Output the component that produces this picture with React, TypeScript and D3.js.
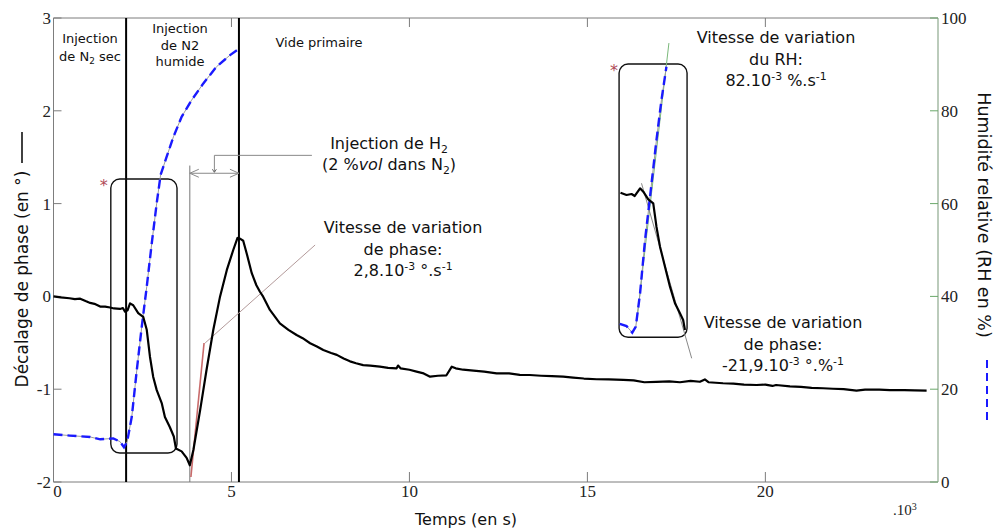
import React from 'react';
import * as d3 from 'd3';

const W = 996;
const H = 529;

// ---- axis ticks ----
const xTickValues = [0, 5, 10, 15, 20];
const xTopTicks = [5, 10, 15, 20];
const yLeftTicks = [3, 2, 1, 0, -1, -2];
const yRightTicks = [100, 80, 60, 40, 20, 0];

// ---- main phase curve (time in 10^3 s, phase in degrees) ----
const phaseTime = [
  0, 0.2, 0.45, 0.6, 0.75, 0.9, 1.03, 1.15, 1.31, 1.45, 1.59, 1.7, 1.87, 1.95, 2.01, 2.08, 2.15, 2.24, 2.38, 2.52,
  2.62, 2.71, 2.8, 2.9, 3.04, 3.13, 3.27, 3.38, 3.44, 3.6, 3.74, 3.83, 3.93, 4.12, 4.3, 4.49, 4.68, 4.87, 5.05, 5.17,
  5.25, 5.33, 5.43, 5.57, 5.7, 5.8, 5.89, 6.08, 6.36, 6.6, 6.83, 7.0, 7.21, 7.4, 7.58, 7.8, 7.96, 8.15, 8.33, 8.5,
  8.7, 8.9, 9.17, 9.4, 9.64, 9.68, 9.75, 10.0, 10.2, 10.4, 10.58, 10.8, 11.04, 11.19, 11.3, 11.51, 11.8, 12.1, 12.45,
  12.8, 13.1, 13.38, 13.7, 14.0, 14.32, 14.6, 14.9, 15.26, 15.6, 16.01, 16.3, 16.6, 16.94, 17.3, 17.6, 17.9, 18.16,
  18.3, 18.4, 18.81, 19.1, 19.4, 19.75, 20.0, 20.2, 20.3, 20.69, 21.0, 21.3, 21.62, 21.9, 22.2, 22.56, 22.8, 23.2,
  23.5, 23.9, 24.2, 24.53,
];
const phaseDeg = [
  0, -0.01, -0.02, -0.03, -0.025, -0.05, -0.07, -0.08, -0.11, -0.11, -0.12, -0.13, -0.135, -0.125, -0.165, -0.15,
  -0.075, -0.095, -0.18, -0.22, -0.36, -0.65, -0.865, -1.01, -1.15, -1.3, -1.41, -1.51, -1.64, -1.67, -1.74, -1.82,
  -1.655, -1.225, -0.79, -0.36, 0.0, 0.285, 0.5, 0.63, 0.62, 0.6, 0.46, 0.25, 0.12, 0.05, -0.003, -0.146, -0.29,
  -0.36, -0.416, -0.45, -0.505, -0.54, -0.578, -0.61, -0.63, -0.67, -0.7, -0.72, -0.74, -0.745, -0.757, -0.77,
  -0.775, -0.745, -0.775, -0.79, -0.81, -0.83, -0.865, -0.855, -0.85, -0.757, -0.775, -0.79, -0.8, -0.81, -0.83,
  -0.83, -0.845, -0.847, -0.855, -0.86, -0.865, -0.875, -0.885, -0.893, -0.895, -0.9, -0.905, -0.925, -0.92,
  -0.915, -0.925, -0.91, -0.92, -0.895, -0.925, -0.936, -0.94, -0.95, -0.955, -0.95, -0.965, -0.955, -0.97,
  -0.975, -0.985, -0.99, -0.995, -1.0, -1.016, -1.005, -1.005, -1.009, -1.01, -1.012, -1.016,
];

// ---- relative humidity curve (time in 10^3 s, RH in %) ----
const rhTime = [0, 0.46, 1.03, 1.31, 1.68, 1.87, 1.98, 2.07, 2.2, 2.34, 2.48, 2.62, 2.76, 2.9, 3.01, 3.18, 3.37, 3.6, 3.88, 4.21, 4.58, 4.96, 5.16];
const rhPct = [10.3, 10.0, 9.7, 9.2, 9.4, 8.7, 7.5, 8.7, 14.1, 24.1, 33.5, 42.1, 51.4, 60.1, 66.2, 70.1, 74.4, 78.7, 82.3, 85.9, 89.5, 92.0, 93.1];

// ---- inset (zoom of the first transient, drawn in main-axis units) ----
const insetPhaseTime = [15.93, 16.1, 16.24, 16.33, 16.48, 16.57, 16.71, 16.85, 16.94, 17.04, 17.18, 17.32, 17.46, 17.6, 17.69, 17.74];
const insetPhaseDeg = [1.117, 1.093, 1.103, 1.082, 1.165, 1.128, 1.046, 1.003, 0.751, 0.536, 0.32, 0.105, -0.074, -0.182, -0.254, -0.362];
const insetRhTime = [15.91, 16.1, 16.26, 16.36, 16.48, 16.62, 16.76, 16.94, 17.08, 17.22];
const insetRhPct = [34.1, 33.6, 32.2, 33.5, 40.7, 52.2, 61.5, 73.7, 82.3, 89.5];

// ---- event times (10^3 s) ----
const wetStart = 2.04;
const vacuumStart = 5.21;
const h2Start = 3.83;

const x = d3.scaleLinear().domain([0, 24.85]).range([53.5, 938]);
const yL = d3.scaleLinear().domain([-2, 3]).range([482, 18]);
const yR = d3.scaleLinear().domain([0, 100]).range([482, 18]);

const lineL = d3.line<[number, number]>().x((d) => x(d[0])).y((d) => yL(d[1]));
const lineR = d3.line<[number, number]>().x((d) => x(d[0])).y((d) => yR(d[1]));

const zip = (a: number[], b: number[]) => a.map((v, i) => [v, b[i]] as [number, number]);

type Part = { t: string; sup?: boolean; sub?: boolean; it?: boolean };

function Rich({ x: px, y: py, parts, size = 16, anchor = 'middle' }: { x: number; y: number; parts: Part[]; size?: number; anchor?: string }) {
  let shift = 0;
  const els = parts.map((p, i) => {
    const target = p.sup ? -size * 0.38 : p.sub ? size * 0.25 : 0;
    const dy = target - shift;
    shift = target;
    return (
      <tspan key={i} dy={dy} fontSize={p.sup || p.sub ? size * 0.68 : size} fontStyle={p.it ? 'italic' : undefined}>
        {p.t}
      </tspan>
    );
  });
  return (
    <text x={px} y={py} textAnchor={anchor as any} fontFamily="DejaVu Sans" fontSize={size} fill="#111">
      {els}
    </text>
  );
}

export default function App() {
  const axisGray = '#7d7d7d';
  const rightAxis = '#8ea88e';
  const top = yL(3);
  const bottom = yL(-2);
  const left = x(0);
  const right = x(24.85);

  const phaseData = zip(phaseTime, phaseDeg);
  const rhData = zip(rhTime, rhPct);
  const insetPh = zip(insetPhaseTime, insetPhaseDeg);
  const insetRh = zip(insetRhTime, insetRhPct);

  // annotation geometry in data units
  const arrowY = yL(1.327);
  const bracketY = yL(1.52);
  const arrowX1 = x(h2Start);
  const arrowX2 = x(vacuumStart);
  const arrowMid = x(4.52);
  const bracketEnd = x(7.26);

  const leftBox = { x0: x(1.61), x1: x(3.47), y0: yL(1.265), y1: yL(-1.688) };
  const rightBox = { x0: x(15.89), x1: x(17.8), y0: yL(2.504), y1: yL(-0.441) };

  return (
    <svg width={W} height={H} style={{ position: 'absolute', left: 0, top: 0, background: '#fff' }}>
      <rect x={0} y={0} width={W} height={H} fill="#fff" />

      {/* axes frame */}
      <line x1={left} x2={right} y1={top} y2={top} stroke={axisGray} strokeWidth={1} />
      <line x1={left} x2={right} y1={bottom} y2={bottom} stroke={axisGray} strokeWidth={1} />
      <line x1={left} x2={left} y1={top} y2={bottom} stroke={axisGray} strokeWidth={1} />
      <line x1={right} x2={right} y1={top} y2={bottom} stroke={rightAxis} strokeWidth={1.2} />

      {/* bottom ticks */}
      {xTickValues.map((t) => (
        <g key={'xb' + t}>
          <line x1={x(t)} x2={x(t)} y1={bottom} y2={bottom - 10} stroke={axisGray} />
          <text x={x(t) + (t === 0 ? 4 : 0)} y={497} textAnchor="middle" fontFamily="Liberation Serif" fontSize={17} fill="#222">
            {t}
          </text>
        </g>
      ))}
      {xTopTicks.map((t) => (
        <line key={'xt' + t} x1={x(t)} x2={x(t)} y1={top} y2={top + 9} stroke={axisGray} />
      ))}
      {/* left ticks */}
      {yLeftTicks.map((v) => (
        <g key={'yl' + v}>
          <line x1={left} x2={left + 8} y1={yL(v)} y2={yL(v)} stroke={axisGray} />
          <text x={51} y={yL(v) + 6} textAnchor="end" fontFamily="Liberation Serif" fontSize={17} fill="#222">
            {v}
          </text>
        </g>
      ))}
      {/* right ticks */}
      {yRightTicks.map((v) => (
        <g key={'yr' + v}>
          <line x1={right - 8} x2={right} y1={yR(v)} y2={yR(v)} stroke="#6aa86a" />
          <text x={941} y={yR(v) + 6} textAnchor="start" fontFamily="Liberation Serif" fontSize={17} fill="#222">
            {v}
          </text>
        </g>
      ))}
      <text x={893} y={515} fontFamily="Liberation Serif" fontSize={15} fill="#222">
        .10<tspan dy={-5} fontSize={10}>3</tspan>
      </text>

      {/* axis titles */}
      <text transform={`translate(28, 279) rotate(-90)`} textAnchor="middle" fontFamily="DejaVu Sans" fontSize={17} fill="#111">
        Décalage de phase (en °)
      </text>
      <line x1={22} x2={22} y1={132} y2={163} stroke="#111" strokeWidth={1.6} />
      <text transform={`translate(978, 215) rotate(90)`} textAnchor="middle" fontFamily="DejaVu Sans" fontSize={17.5} fill="#111">
        Humidité relative (RH en %)
      </text>
      <line x1={987} x2={987} y1={360} y2={420} stroke="#1a1aff" strokeWidth={2} strokeDasharray="8,5" />
      <text x={466} y={525} textAnchor="middle" fontFamily="DejaVu Sans" fontSize={16} fill="#111">
        Temps (en s)
      </text>

      {/* phase boundaries */}
      <line x1={x(wetStart)} x2={x(wetStart)} y1={top} y2={bottom} stroke="#000" strokeWidth={2} />
      <line x1={x(vacuumStart)} x2={x(vacuumStart)} y1={top} y2={bottom} stroke="#000" strokeWidth={2} />
      <line x1={x(h2Start)} x2={x(h2Start)} y1={yL(1.41)} y2={bottom} stroke="#777" strokeWidth={1} />

      {/* section labels */}
      <Rich x={90} y={43} size={13} parts={[{ t: 'Injection' }]} />
      <Rich x={90} y={61} size={13} parts={[{ t: 'de N' }, { t: '2', sub: true }, { t: ' sec' }]} />
      <Rich x={180} y={33} size={13} parts={[{ t: 'Injection' }]} />
      <Rich x={180} y={50} size={13} parts={[{ t: 'de N2' }]} />
      <Rich x={180} y={66} size={13} parts={[{ t: 'humide' }]} />
      <Rich x={319} y={47} size={13} parts={[{ t: 'Vide primaire' }]} />

      {/* H2 injection arrow */}
      <line x1={arrowX1} x2={arrowX2} y1={arrowY} y2={arrowY} stroke="#888" strokeWidth={1} />
      <polyline points={`${arrowX1 + 9},${arrowY - 4} ${arrowX1},${arrowY} ${arrowX1 + 9},${arrowY + 4}`} fill="none" stroke="#888" />
      <polyline points={`${arrowX2 - 9},${arrowY - 4} ${arrowX2},${arrowY} ${arrowX2 - 9},${arrowY + 4}`} fill="none" stroke="#888" />
      <polyline points={`${arrowMid},${arrowY - 1} ${arrowMid},${bracketY} ${bracketEnd},${bracketY}`} fill="none" stroke="#888" strokeWidth={1} />
      <polyline points={`${arrowMid - 2},${arrowY - 4} ${arrowMid},${arrowY - 1} ${arrowMid + 2},${arrowY - 4}`} fill="none" stroke="#666" />
      <Rich x={389} y={149} parts={[{ t: 'Injection de H' }, { t: '2', sub: true }]} />
      <Rich x={389} y={170} parts={[{ t: '(2 %' }, { t: 'vol', it: true }, { t: ' dans N' }, { t: '2', sub: true }, { t: ')' }]} />

      {/* slope annotation (middle) */}
      <line x1={x(7.35)} y1={yL(0.554)} x2={x(4.26)} y2={yL(-0.502)} stroke="#b39a9a" strokeWidth={1} />
      <line x1={x(4.23)} y1={yL(-0.502)} x2={x(3.86)} y2={yL(-1.946)} stroke="#c86a6a" strokeWidth={1.6} />
      <Rich x={403} y={233} parts={[{ t: 'Vitesse de variation' }]} />
      <Rich x={403} y={255} parts={[{ t: 'de phase:' }]} />
      <Rich x={403} y={276} parts={[{ t: '2,8.10' }, { t: '-3', sup: true }, { t: ' °.s' }, { t: '-1', sup: true }]} />

      {/* boxes */}
      <rect x={leftBox.x0} y={leftBox.y0} width={leftBox.x1 - leftBox.x0} height={leftBox.y1 - leftBox.y0} rx={9} fill="none" stroke="#111" strokeWidth={1.4} />
      <rect x={rightBox.x0} y={rightBox.y0} width={rightBox.x1 - rightBox.x0} height={rightBox.y1 - rightBox.y0} rx={9} fill="none" stroke="#111" strokeWidth={1.4} />
      <text x={leftBox.x0 - 7} y={leftBox.y0 + 12} textAnchor="middle" fontFamily="DejaVu Sans" fontSize={16} fill="#b04a58">*</text>
      <text x={rightBox.x0 - 5} y={rightBox.y0 + 12} textAnchor="middle" fontFamily="DejaVu Sans" fontSize={16} fill="#b04a58">*</text>

      {/* RH curve */}
      <path d={lineR(rhData) || ''} fill="none" stroke="#9a9a9a" strokeWidth={1} />
      <path d={lineR(rhData) || ''} fill="none" stroke="#1a1aff" strokeWidth={2.4} strokeDasharray="9,5" />

      {/* phase curve */}
      <path d={lineL(phaseData) || ''} fill="none" stroke="#000" strokeWidth={2.2} strokeLinejoin="round" />

      {/* inset curves */}
      <line x1={x(17.29)} y1={yR(94.6)} x2={x(16.39)} y2={yR(34.9)} stroke="#7ab87a" strokeWidth={1} />
      <line x1={x(16.52)} y1={yL(1.219)} x2={x(17.93)} y2={yL(-0.667)} stroke="#888" strokeWidth={1} />
      <path d={lineR(insetRh) || ''} fill="none" stroke="#9a9a9a" strokeWidth={1} />
      <path d={lineR(insetRh) || ''} fill="none" stroke="#1a1aff" strokeWidth={2.4} strokeDasharray="9,5" />
      <path d={lineL(insetPh) || ''} fill="none" stroke="#000" strokeWidth={2.2} strokeLinejoin="round" />

      {/* right annotations */}
      <Rich x={776} y={43} parts={[{ t: 'Vitesse de variation' }]} />
      <Rich x={776} y={65} parts={[{ t: 'du RH:' }]} />
      <Rich x={776} y={86} parts={[{ t: '82.10' }, { t: '-3', sup: true }, { t: ' %.s' }, { t: '-1', sup: true }]} />
      <Rich x={783} y={328} parts={[{ t: 'Vitesse de variation' }]} />
      <Rich x={783} y={350} parts={[{ t: 'de phase:' }]} />
      <Rich x={783} y={371} parts={[{ t: '-21,9.10' }, { t: '-3', sup: true }, { t: ' °.%' }, { t: '-1', sup: true }]} />
    </svg>
  );
}
